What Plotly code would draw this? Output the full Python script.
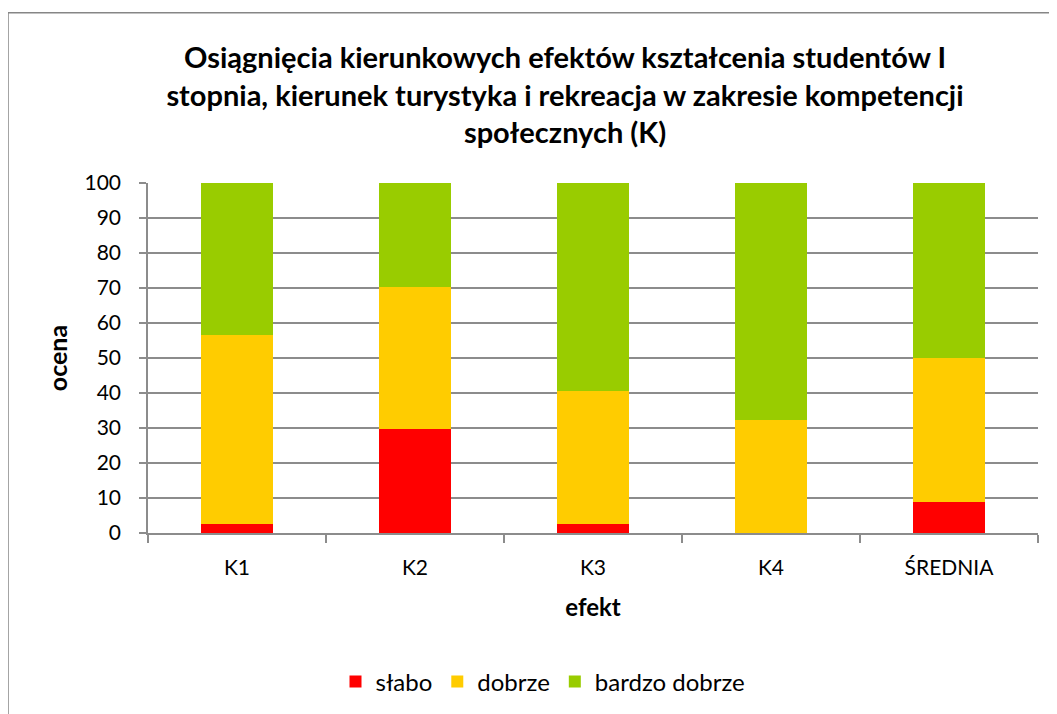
import plotly.graph_objects as go

categories = ["K1", "K2", "K3", "K4", "ŚREDNIA"]
slabo = [2.7, 29.7, 2.7, 0.0, 8.8]
dobrze = [54.0, 40.5, 37.8, 32.4, 41.2]
bardzo_dobrze = [43.3, 29.8, 59.5, 67.6, 50.0]
y_ticks = [0, 10, 20, 30, 40, 50, 60, 70, 80, 90, 100]

FONT = "Lato"
GRID = "#8c8c8c"
W, H = 1049, 706
L, T, B, R = 140, 175, 181, 19
PW, PH = W - L - R, H - T - B

fig = go.Figure()
for name, vals, col in [("słabo", slabo, "#ff0000"),
                        ("dobrze", dobrze, "#ffcc00"),
                        ("bardzo dobrze", bardzo_dobrze, "#99cc00")]:
    fig.add_trace(go.Bar(x=categories, y=vals, name=name,
                         marker=dict(color=col, line=dict(width=0)),
                         width=0.4))

fig.update_layout(
    width=W, height=H,
    barmode="stack",
    paper_bgcolor="white", plot_bgcolor="white",
    margin=dict(l=L, r=R, t=T, b=B, autoexpand=False),
    font=dict(family=FONT, color="#000000", size=21),
    title=dict(
        text="<b>Osiągnięcia kierunkowych efektów kształcenia studentów I<br>"
             "stopnia, kierunek turystyka i rekreacja w zakresie kompetencji<br>"
             "społecznych (K)</b>",
        x=557 / W, xanchor="center", y=1 - 60 / H, yanchor="middle",
        font=dict(family=FONT, size=29, color="#000000"),
    ),
    xaxis=dict(
        type="category",
        showline=True, linecolor=GRID, linewidth=1.5,
        ticks="outside", tickson="boundaries", ticklen=8, tickcolor=GRID, tickwidth=1.5,
        ticklabelstandoff=15,
        showgrid=False,
        title=dict(text="<b>efekt</b>", font=dict(family=FONT, size=24), standoff=21),
        tickfont=dict(family=FONT, size=21),
    ),
    yaxis=dict(
        range=[0, 100], tickvals=y_ticks,
        showline=True, linecolor=GRID, linewidth=1.5,
        ticks="outside", ticklen=7, tickcolor=GRID, tickwidth=1.5,
        ticklabelstandoff=14,
        showgrid=True, gridcolor=GRID, gridwidth=1.5,
        zeroline=False,
        title=dict(text="<b>ocena</b>", font=dict(family=FONT, size=25), standoff=10),
        tickfont=dict(family=FONT, size=21),
    ),
    legend=dict(orientation="h", x=(535 - L) / PW, xanchor="center",
                y=(PH + T - 674) / PH, yanchor="middle",
                font=dict(family=FONT, size=24), traceorder="normal",
                itemwidth=30),
    showlegend=True,
)

fig.add_shape(type="rect", xref="paper", yref="paper",
              x0=(0 - L) / PW, x1=1.2, y0=-1.0, y1=(PH + T - 4.7) / PH,
              line=dict(color="#868686", width=1.5), fillcolor="rgba(0,0,0,0)",
              layer="below")

fig.write_html("out.html")
